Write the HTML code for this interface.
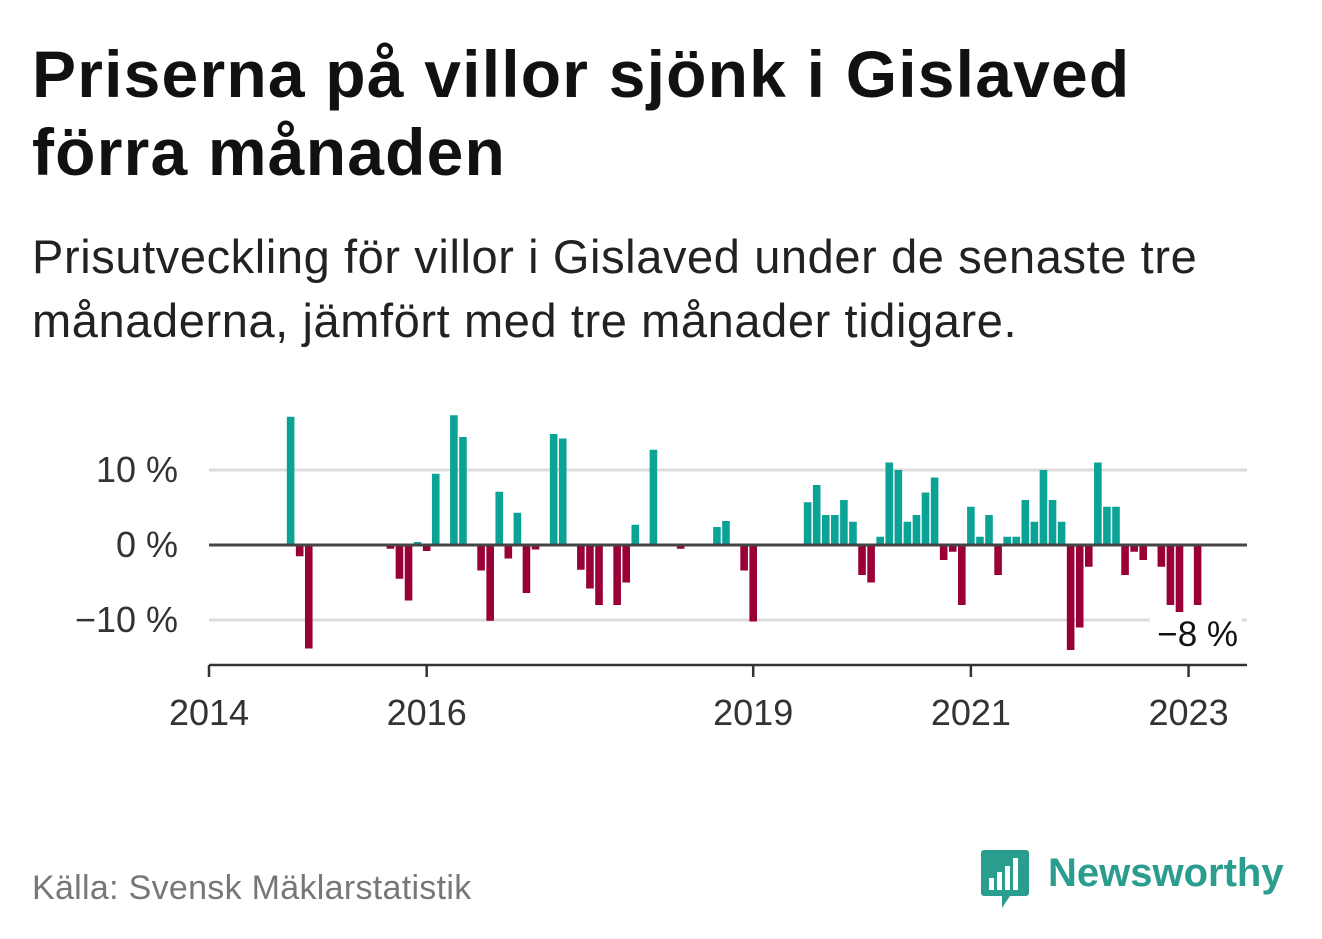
<!DOCTYPE html>
<html><head><meta charset="utf-8">
<style>
html,body{margin:0;padding:0;background:#fff;}
body{width:1322px;height:939px;overflow:hidden;position:relative;font-family:"Liberation Sans",sans-serif;}
.title{position:absolute;left:32px;top:35px;font-size:66px;font-weight:bold;line-height:78px;color:#111;margin:0;white-space:nowrap;letter-spacing:1.2px;}
.sub{position:absolute;left:32px;top:225px;font-size:47px;line-height:64px;color:#222;margin:0;white-space:nowrap;letter-spacing:0.6px;}
.src{position:absolute;left:32px;top:871px;font-size:34px;line-height:34px;color:#777;letter-spacing:0.3px;}
.logo{position:absolute;left:980px;top:848px;}
.logotext{position:absolute;left:1048px;top:851px;font-size:40px;font-weight:bold;color:#2a9d8f;}
</style></head><body>
<h1 class="title">Priserna på villor sjönk i Gislaved<br>förra månaden</h1>
<p class="sub">Prisutveckling för villor i Gislaved under de senaste tre<br>månaderna, jämfört med tre månader tidigare.</p>
<svg id="chart" width="1322" height="939" style="position:absolute;left:0;top:0" xmlns="http://www.w3.org/2000/svg"></svg>
<div class="src">Källa: Svensk Mäklarstatistik</div>
<svg class="logo" width="50" height="62" viewBox="0 0 50 62">
<path d="M4 2h42a3 3 0 0 1 3 3v40a3 3 0 0 1-3 3H30l-8 12v-12H4a3 3 0 0 1-3-3V5a3 3 0 0 1 3-3z" fill="#2a9d8f"/>
<rect x="9" y="30" width="5" height="12" fill="#fff"/><rect x="17" y="24" width="5" height="18" fill="#fff"/><rect x="25" y="18" width="5" height="24" fill="#fff"/><rect x="33" y="10" width="5" height="32" fill="#fff"/>
</svg>
<div class="logotext">Newsworthy</div>
<script>
const months=[9,10,11,20,21,22,23,24,25,27,28,30,31,32,33,34,35,36,38,39,41,42,43,45,46,47,49,52,56,57,59,60,66,67,68,69,70,71,72,73,74,75,76,77,78,79,80,81,82,83,84,85,86,87,88,89,90,91,92,93,94,95,96,97,98,99,100,101,102,103,105,106,107,109];
const values=[17.1,-1.5,-13.8,-0.5,-4.5,-7.4,0.4,-0.8,9.5,17.3,14.4,-3.4,-10.1,7.1,-1.8,4.3,-6.4,-0.6,14.8,14.2,-3.3,-5.8,-8,-8,-5,2.7,12.7,-0.5,2.4,3.2,-3.4,-10.2,5.7,8,4,4,6,3.1,-4,-5,1.1,11,10,3.1,4,7,9,-2,-0.9,-8,5.1,1.1,4,-4,1.1,1.1,6,3.1,10,6,3.1,-14,-11,-2.9,11,5.1,5.1,-4,-0.9,-2,-2.9,-8,-9,-8];
const yTicks=[-10,0,10];
const yTickLabels=["−10 %","0 %","10 %"];
const xTickMonths=[0,24,60,84,108];
const xTickLabels=["2014","2016","2019","2021","2023"];
const lastLabel="−8 %";

const NS="http://www.w3.org/2000/svg";
const svg=document.getElementById('chart');
const x=m=>209+m*9.07;
const y=v=>545-v*7.5;
function el(t,a){const e=document.createElementNS(NS,t);for(const k in a)e.setAttribute(k,a[k]);svg.appendChild(e);return e;}
yTicks.forEach((t,i)=>{
  if(t!==0){const g=el('line',{x1:209,x2:1247,y1:y(t),y2:y(t),stroke:'#dcdcdc','stroke-width':3});
  
  }
  const l=el('text',{x:178,y:y(t)+12,'text-anchor':'end','font-size':36,fill:'#333','font-family':'Liberation Sans, sans-serif'});
  
  
  l.textContent=yTickLabels[i];
});
months.forEach((m,i)=>{
  const v=values[i];
  const r=el('rect',{x:x(m)-3.8,width:7.6,y:v>=0?y(v):y(0),height:Math.abs(v*7.5),fill:v>=0?'#0ca397':'#990038'});
  
  
});
const z=el('line',{x1:209,x2:1247,y1:y(0),y2:y(0),stroke:'#444','stroke-width':3});


const ax=el('line',{x1:209,x2:1247,y1:665,y2:665,stroke:'#333','stroke-width':2.5});


xTickMonths.forEach((m,i)=>{
  const t=el('line',{x1:x(m),x2:x(m),y1:665,y2:677,stroke:'#333','stroke-width':2.5});
  
  
  const l=el('text',{x:x(m),y:725,'text-anchor':'middle','font-size':36,fill:'#333','font-family':'Liberation Sans, sans-serif'});
  
  
  l.textContent=xTickLabels[i];
});
const lb=el('rect',{x:1150,y:612,width:92,height:40,fill:'#fff'});


const ll=el('text',{x:1238,y:646,'text-anchor':'end','font-size':35,fill:'#111','font-family':'Liberation Sans, sans-serif'});


ll.textContent=lastLabel;
</script>
</body></html>
